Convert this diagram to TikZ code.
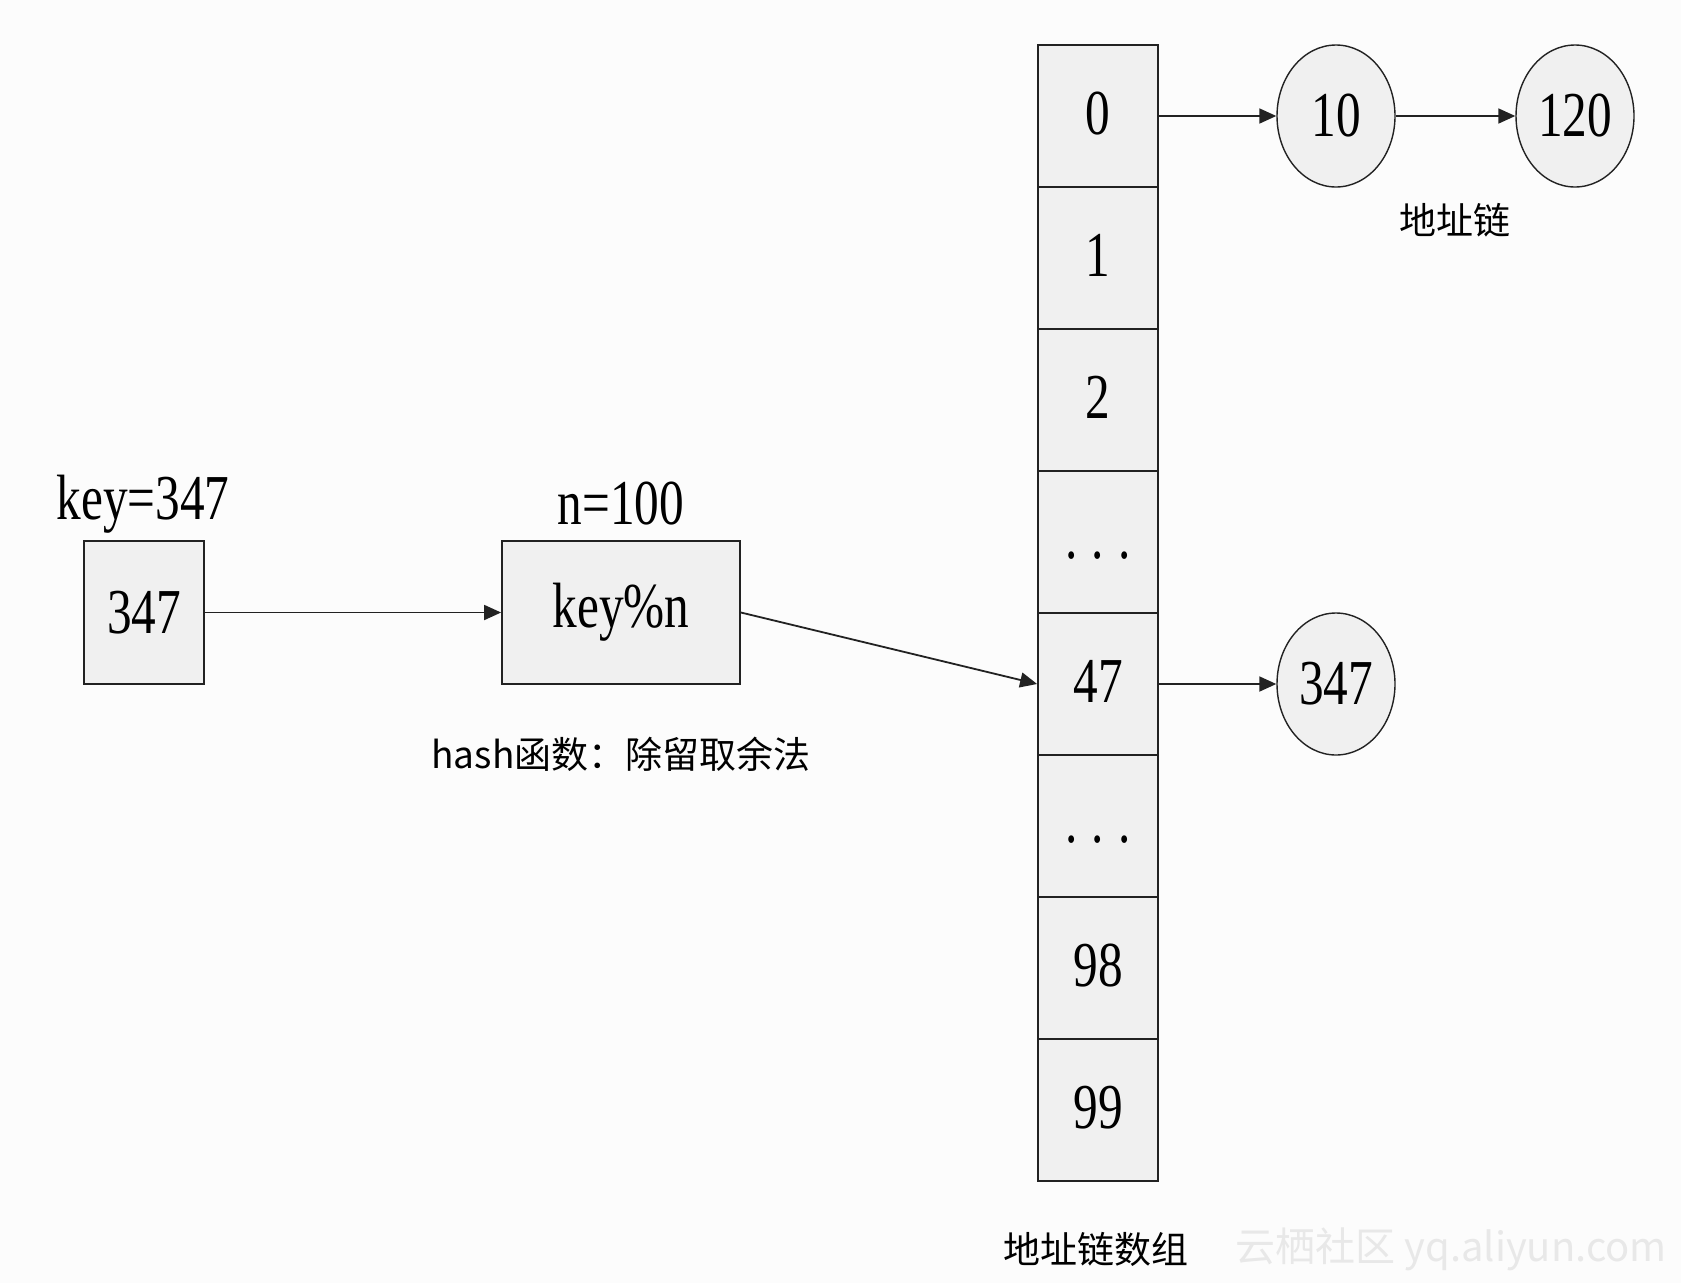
\documentclass[tikz,border=0pt]{standalone}
\usepackage{fontspec}
\setmainfont{Liberation Serif}
\newfontfamily\numfont[FakeStretch=0.77]{Liberation Serif}
\newfontfamily\cjk{Noto Sans CJK SC}
\usetikzlibrary{shapes.geometric,arrows.meta}
\definecolor{bg}{HTML}{FCFCFC}
\definecolor{boxfill}{HTML}{F0F0F0}
\definecolor{ln}{HTML}{222222}
\begin{document}
\begin{tikzpicture}[x=1pt,y=-1pt,
 numtxt/.style={font=\numfont\fontsize{64}{64}\selectfont},
 box/.style={draw=ln,line width=1.8pt,fill=boxfill,inner sep=0pt,numtxt},
 cell/.style={box,minimum width=120pt,minimum height=142pt,text height=36pt,text depth=0pt},
 circ/.style={ellipse,draw=ln,line width=1.4pt,fill=boxfill,inner sep=0pt,minimum width=118pt,minimum height=142pt,numtxt},
 lbl/.style={numtxt,inner sep=0pt},
 cjklbl/.style={font=\cjk\fontsize{37}{37}\selectfont,inner sep=0pt},
 arr/.style={draw=ln,line width=1.8pt,-{Triangle[length=17pt,width=15pt]}}
]
\fill[bg] (0,0) rectangle (1681,1283);
\useasboundingbox (0,0) rectangle (1681,1283);

% input key
\node[box,minimum width=120pt,minimum height=143pt] (b1) at (144,612.5) {347};
\node[lbl] (k1) at (143,504) {key=347};
% hash function
\node[box,minimum width=238pt,minimum height=143pt] (b2) at (621,612.5) {key\%n};
\node[lbl] (n1) at (621,504) {n=100};
\node[cjklbl] (h1) at (621,754) {hash函数：除留取余法};

% array
\node[cell] (c0) at (1098,116) {0};
\node[cell] (c1) at (1098,258) {1};
\node[cell] (c2) at (1098,400) {2};
\node[cell] (c3) at (1098,542) {\raisebox{2pt}{.\hspace{14pt}.\hspace{14pt}.}};
\node[cell] (c4) at (1098,684) {47};
\node[cell] (c5) at (1098,826) {\raisebox{2pt}{.\hspace{14pt}.\hspace{14pt}.}};
\node[cell] (c6) at (1098,968) {98};
\node[cell] (c7) at (1098,1110) {99};
\node[cjklbl] (arrlbl) at (1096,1249) {地址链数组};

% chains
\node[circ] (e10) at (1336,116) {10};
\node[circ] (e120) at (1575,116) {120};
\node[circ] (e347) at (1336,684) {347};
\node[cjklbl] (chlbl) at (1455,220) {地址链};

% watermark
\node[font=\cjk\fontsize{40}{40}\selectfont,text=black!9,anchor=east,inner sep=0pt] (wm) at (1667,1249) {云栖社区 yq.aliyun.com};

% connectors
\draw[arr] (b1.east) -- (b2.west);
\draw[arr] (b2.east) -- (c4.west);
\draw[arr] (c0.east) -- (e10.west);
\draw[arr] (e10.east) -- (e120.west);
\draw[arr] (c4.east) -- (e347.west);
\end{tikzpicture}
\end{document}
